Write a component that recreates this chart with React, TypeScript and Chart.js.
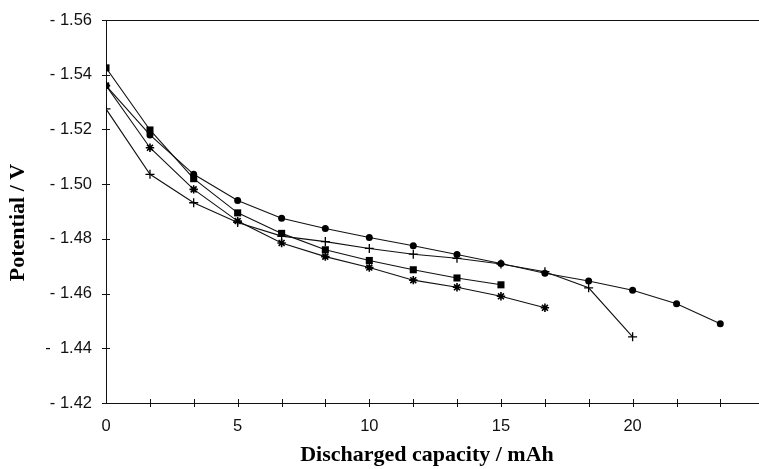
import { useEffect, useRef } from 'react';
import { Chart, registerables } from 'chart.js';

Chart.register(...registerables);

// Discharged capacity (mAh) at each measurement
const capacity = [0, 1.67, 3.33, 5, 6.67, 8.33, 10, 11.67, 13.33, 15, 16.67, 18.33, 20, 21.67, 23.33];

// Potential (V) for each cell
const circleSeries = [1.536, 1.518, 1.5036, 1.494, 1.4875, 1.4838, 1.4805, 1.4775, 1.4743, 1.471, 1.4674, 1.4646, 1.4612, 1.4563, 1.449];
const plusSeries = [1.5275, 1.5036, 1.4932, 1.486, 1.481, 1.479, 1.4765, 1.4744, 1.4729, 1.4708, 1.468, 1.4621, 1.4442];
const squareSeries = [1.5425, 1.5198, 1.502, 1.4895, 1.482, 1.476, 1.4721, 1.4687, 1.4657, 1.4632];
const starSeries = [1.536, 1.5133, 1.4981, 1.4865, 1.4785, 1.4735, 1.4695, 1.4649, 1.4623, 1.459, 1.4548];

// Axis ticks
const xTickValues = [0, 1.667, 3.333, 5, 6.667, 8.333, 10, 11.667, 13.333, 15, 16.667, 18.333, 20, 21.667, 23.333];
const xTickLabels = ['0', '', '', '5', '', '', '10', '', '', '15', '', '', '20', '', ''];
const yTickValues = [1.42, 1.44, 1.46, 1.48, 1.5, 1.52, 1.54, 1.56];
const yTickLabels = ['- 1.42', '-  1.44', '- 1.46', '- 1.48', '- 1.50', '- 1.52', '- 1.54', '- 1.56'];

const X_MIN = 0;
const X_MAX = 24.8;
const Y_MIN = 1.42;
const Y_MAX = 1.56;

const toPoints = (ys: number[]) => ys.map((y, i) => ({ x: capacity[i], y }));

const crossTicks = {
  id: 'crossTicks',
  afterDraw(chart: any) {
    const { ctx, chartArea, scales } = chart;
    const xs = scales.x;
    const ys = scales.y;
    ctx.save();
    ctx.strokeStyle = '#111';
    ctx.lineWidth = 1;
    ctx.beginPath();
    xs.ticks.forEach((t: any) => {
      const px = Math.round(xs.getPixelForValue(t.value)) + 0.5;
      if (px <= chartArea.left + 2) return;
      ctx.moveTo(px, chartArea.bottom - 4);
      ctx.lineTo(px, chartArea.bottom + 4);
    });
    ys.ticks.forEach((t: any) => {
      const py = Math.round(ys.getPixelForValue(t.value)) + 0.5;
      ctx.moveTo(chartArea.left - 4, py);
      ctx.lineTo(chartArea.left + 4, py);
    });
    ctx.stroke();
    ctx.restore();
  },
};

export default function App() {
  const ref = useRef<HTMLCanvasElement | null>(null);

  useEffect(() => {
    if (!ref.current) return;
    const common = {
      borderColor: '#111',
      borderWidth: 1.1,
      backgroundColor: '#000',
      pointBorderColor: '#000',
      pointBackgroundColor: '#000',
      tension: 0,
      fill: false,
    };
    const chart = new Chart(ref.current, {
      type: 'line',
      data: {
        datasets: [
          { ...common, label: 'circle', data: toPoints(circleSeries), pointStyle: 'circle', pointRadius: 3.5, pointBorderWidth: 0 },
          { ...common, label: 'plus', data: toPoints(plusSeries), pointStyle: 'cross', pointRadius: 4.5, pointBorderWidth: 1.3 },
          { ...common, label: 'square', data: toPoints(squareSeries), pointStyle: 'rect', pointRadius: 5, pointBorderWidth: 0 },
          { ...common, label: 'star', data: toPoints(starSeries), pointStyle: 'star', pointRadius: 4.2, pointBorderWidth: 1.6 },
        ],
      },
      options: {
        animation: false,
        responsive: false,
        devicePixelRatio: 1,
        layout: { autoPadding: false, padding: { top: 20, right: 0, left: 0, bottom: 0 } },
        plugins: { legend: { display: false }, tooltip: { enabled: false } },
        scales: {
          x: {
            type: 'linear',
            min: X_MIN,
            max: X_MAX,
            afterBuildTicks: (scale: any) => {
              scale.ticks = xTickValues.map((v) => ({ value: v }));
            },
            afterFit: (scale: any) => {
              scale.height = 66;
              scale.paddingRight = 0;
              scale.paddingLeft = 0;
            },
            ticks: {
              autoSkip: false,
              maxRotation: 0,
              padding: 14,
              color: '#111',
              font: { family: '"Liberation Sans", Arial, sans-serif', size: 16.5 },
              callback: (_v: any, i: number) => xTickLabels[i] ?? '',
            },
            grid: { display: false, drawTicks: false },
            border: { display: true, color: '#111', width: 1 },
            title: {
              display: true,
              text: 'Discharged capacity / mAh  ',
              color: '#000',
              padding: { top: 0, bottom: 3 },
              font: { family: '"Liberation Serif", "Times New Roman", serif', size: 22, weight: 'bold', lineHeight: 1 },
            },
          },
          y: {
            type: 'linear',
            min: Y_MIN,
            max: Y_MAX,
            afterBuildTicks: (scale: any) => {
              scale.ticks = yTickValues.map((v) => ({ value: v }));
            },
            afterFit: (scale: any) => {
              scale.width = 106;
              scale.paddingTop = 0;
              scale.paddingBottom = 0;
            },
            ticks: {
              autoSkip: false,
              padding: 14,
              color: '#111',
              font: { family: '"Liberation Sans", Arial, sans-serif', size: 16.5 },
              callback: (_v: any, i: number) => yTickLabels[i] ?? '',
            },
            grid: {
              display: true,
              drawTicks: false,
              drawOnChartArea: true,
              color: (ctx: any) => (ctx.tick && Math.abs(ctx.tick.value - Y_MAX) < 1e-9 ? '#111' : 'rgba(0,0,0,0)'),
              lineWidth: 1,
            },
            border: { display: true, color: '#111', width: 1 },
            title: {
              display: true,
              text: 'Potential / V    ',
              color: '#000',
              padding: { top: 7, bottom: 0 },
              font: { family: '"Liberation Serif", "Times New Roman", serif', size: 22, weight: 'bold', lineHeight: 1 },
            },
          },
        },
      },
      plugins: [crossTicks],
    });
    return () => chart.destroy();
  }, []);

  return (
    <div style={{ position: 'fixed', left: 0, top: 0, width: 759, height: 469, background: '#fff' }}>
      <canvas ref={ref} width={759} height={469} />
    </div>
  );
}
